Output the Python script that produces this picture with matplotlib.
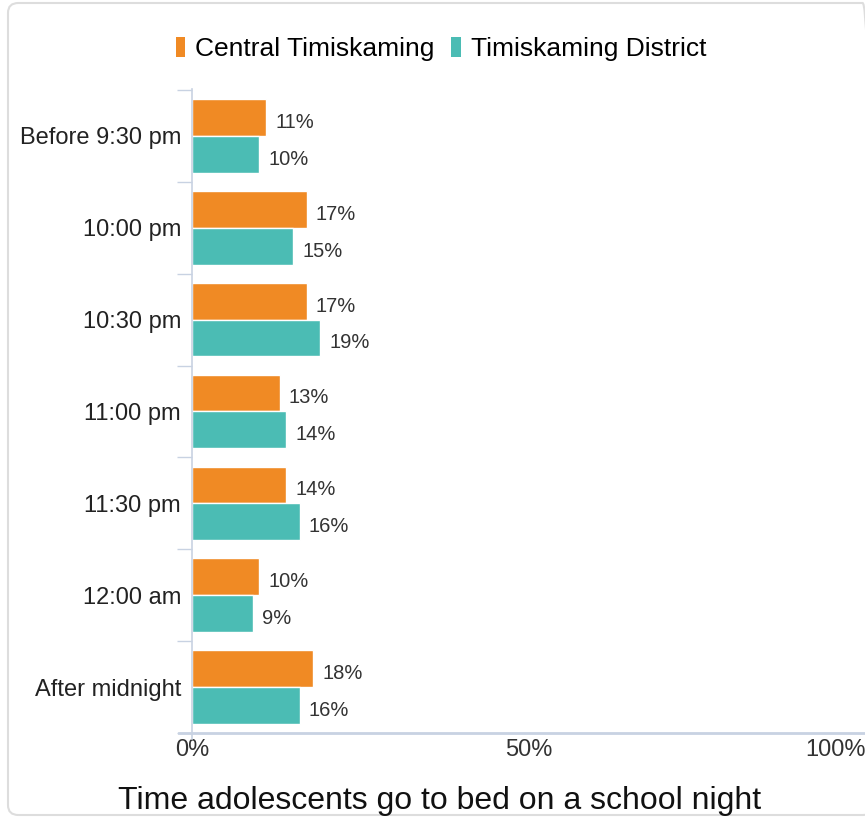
import matplotlib.pyplot as plt
from matplotlib.patches import Patch, FancyBboxPatch
import numpy as np

# данные с картинки
categories = ['Before 9:30 pm', '10:00 pm', '10:30 pm', '11:00 pm', '11:30 pm', '12:00 am', 'After midnight']
central = [11, 17, 17, 13, 14, 10, 18]
district = [10, 15, 19, 14, 16, 9, 16]
series_names = ['Central Timiskaming', 'Timiskaming District']
x_ticks = [0, 50, 100]
x_labels = ['0%', '50%', '100%']
title = 'Time adolescents go to bed on a school night'

ORANGE = '#f08a24'
TEAL = '#4bbcb4'
AXIS_COL = '#c8d2e2'

plt.rcParams['font.family'] = ['Liberation Sans', 'DejaVu Sans']

fig = plt.figure(figsize=(8.65, 8.18), dpi=100)
W, H = 865, 818

# рамка со скруглёнными углами
box = FancyBboxPatch((8 / W, 3 / H), 1.0, 812 / H, boxstyle='round,pad=0,rounding_size=0.012',
                     transform=fig.transFigure, facecolor='none', edgecolor='#dddddd', lw=1.5)
fig.patches.append(box)

ax = fig.add_axes([192 / W, 1 - 733 / H, 674 / W, 643 / H])
ax.patch.set_alpha(0)

y = np.arange(len(categories)) + 0.5
ax.barh(y - 0.2, central, height=0.4, color=ORANGE, edgecolor='white', lw=1)
ax.barh(y + 0.2, district, height=0.4, color=TEAL, edgecolor='white', lw=1)

for yy, v in zip(y - 0.2, central):
    ax.annotate(f'{v}%', (v, yy), xytext=(6.5, -3.5), textcoords='offset points',
                va='center', ha='left', fontsize=14.5, color='#333333')
for yy, v in zip(y + 0.2, district):
    ax.annotate(f'{v}%', (v, yy), xytext=(6.5, -3.5), textcoords='offset points',
                va='center', ha='left', fontsize=14.5, color='#333333')

ax.set_xlim(0, 100)
ax.set_ylim(len(categories), 0)

ax.set_yticks(np.arange(len(categories) + 1))
ax.set_yticklabels([])
ax.set_yticks(y, minor=True)
ax.set_yticklabels(categories, minor=True, fontsize=17, color='#222222')
ax.tick_params(axis='y', which='major', length=11, width=1, color=AXIS_COL)
ax.tick_params(axis='y', which='minor', length=0, pad=8)

ax.set_xticks(x_ticks)
ax.set_xticklabels(x_labels, fontsize=17, color='#333333')
ax.tick_params(axis='x', length=0, pad=4)
ax.get_xticklabels()[-1].set_ha('right')

for s in ['top', 'right', 'bottom']:
    ax.spines[s].set_visible(False)
ax.spines['left'].set_color(AXIS_COL)
ax.spines['left'].set_linewidth(1.2)
ax.spines['left'].set_bounds(-0.01, 7.07)
ax.plot([-0.02, 1.0], [0, 0], transform=ax.transAxes, color=AXIS_COL, lw=2, clip_on=False)

handles = [Patch(facecolor=ORANGE), Patch(facecolor=TEAL)]
fig.legend(handles, series_names, loc='center', bbox_to_anchor=(441 / W, 1 - 49 / H), ncol=2,
           frameon=False, fontsize=19, handlelength=0.36, handleheight=0.76,
           handletextpad=0.38, columnspacing=0.64)

fig.text(440 / W, 1 - 809 / H, title, ha='center', va='baseline', fontsize=23, color='#111111')

fig.savefig('out.png', dpi=100)
